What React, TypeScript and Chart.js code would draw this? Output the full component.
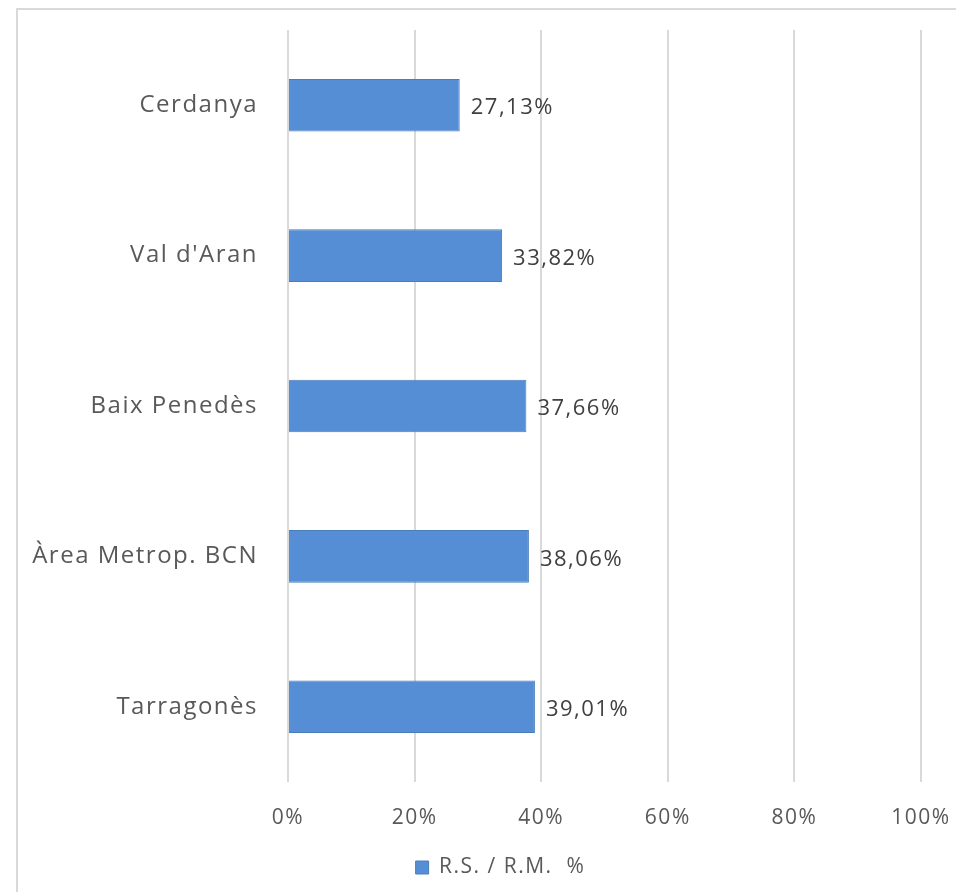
import React, { useEffect, useRef } from "react";
import { Chart, registerables } from "chart.js";

Chart.register(...registerables);

const categories = ["Cerdanya", "Val d'Aran", "Baix Penedès", "Àrea Metrop. BCN", "Tarragonès"];
const values = [27.13, 33.82, 37.66, 38.06, 39.01];
const seriesLabel = "R.S. / R.M.  %";
const xTicks = [0, 20, 40, 60, 80, 100];

const FONT = "'Open Sans', sans-serif";
const TEXT = "#595959";
const SPACING = "1.5px";

const fmt = (v: number) => v.toFixed(2).replace(".", ",") + "%";

const spacing = {
  id: "spacing",
  beforeInit(chart: any) {
    chart.ctx.letterSpacing = SPACING;
  },
  beforeUpdate(chart: any) {
    chart.ctx.letterSpacing = SPACING;
  },
  beforeDraw(chart: any) {
    chart.ctx.letterSpacing = SPACING;
  },
};

// centre the legend under the plot the way the original does
const legendShift = {
  id: "legendShift",
  afterLayout(chart: any) {
    const lg = chart.legend;
    if (lg) {
      lg.left += 40;
      lg.right += 40;
    }
  },
};

const valueLabels = {
  id: "valueLabels",
  afterDatasetsDraw(chart: any) {
    const ctx = chart.ctx;
    const meta = chart.getDatasetMeta(0);
    ctx.save();
    ctx.letterSpacing = SPACING;
    ctx.font = `22px ${FONT}`;
    ctx.fillStyle = "#404040";
    ctx.textAlign = "left";
    ctx.textBaseline = "middle";
    meta.data.forEach((bar: any, i: number) => {
      ctx.fillText(fmt(values[i]), bar.x + 11, bar.y + 3);
    });
    ctx.restore();
  },
};

const noScalePadding = (scale: any) => {
  scale.paddingTop = 0;
  scale.paddingBottom = 0;
  scale.paddingLeft = 0;
  scale.paddingRight = 0;
};

export default function App() {
  const ref = useRef<HTMLCanvasElement | null>(null);
  useEffect(() => {
    if (!ref.current) return;
    const chart = new Chart(ref.current, {
      type: "bar",
      data: {
        labels: categories,
        datasets: [
          {
            label: seriesLabel,
            data: values,
            backgroundColor: "#558ed5",
            borderColor: "#4a7ebb",
            borderWidth: 1,
            barPercentage: 0.7,
            categoryPercentage: 0.5,
          },
        ],
      },
      options: {
        indexAxis: "y",
        animation: false,
        responsive: false,
        maintainAspectRatio: false,
        layout: { padding: { top: 30, right: 35, left: 0, bottom: 4 } },
        plugins: {
          legend: {
            position: "bottom",
            labels: {
              boxWidth: 13,
              boxHeight: 13,
              color: TEXT,
              font: { size: 21, family: FONT },
              padding: 10,
            },
          },
          tooltip: { enabled: false },
        },
        scales: {
          x: {
            min: 0,
            max: 100,
            afterBuildTicks: (scale: any) => {
              scale.ticks = xTicks.map((v) => ({ value: v }));
            },
            ticks: {
              color: TEXT,
              font: { size: 21, family: FONT },
              padding: 23,
              maxRotation: 0,
              callback: (v: any) => v + "%",
            },
            grid: { color: "#d9d9d9", lineWidth: 2, drawTicks: false },
            border: { display: false },
            afterFit: (scale: any) => {
              scale.height = 65;
              noScalePadding(scale);
            },
          },
          y: {
            ticks: {
              color: TEXT,
              font: { size: 24, family: FONT },
              padding: 30,
            },
            grid: { display: false, drawTicks: false },
            border: { display: false },
            afterFit: (scale: any) => {
              scale.width = 288;
              noScalePadding(scale);
            },
          },
        },
      },
      plugins: [spacing, legendShift, valueLabels],
    });
    return () => chart.destroy();
  }, []);

  return (
    <div style={{ position: "fixed", left: 0, top: 0, width: 956, height: 892, background: "#fff" }}>
      <div
        style={{
          position: "absolute",
          left: 16,
          top: 8,
          right: 0,
          bottom: 0,
          borderTop: "2px solid #d9d9d9",
          borderLeft: "2px solid #d9d9d9",
        }}
      />
      <canvas ref={ref} width={956} height={892} style={{ position: "absolute", left: 0, top: 0 }} />
    </div>
  );
}
